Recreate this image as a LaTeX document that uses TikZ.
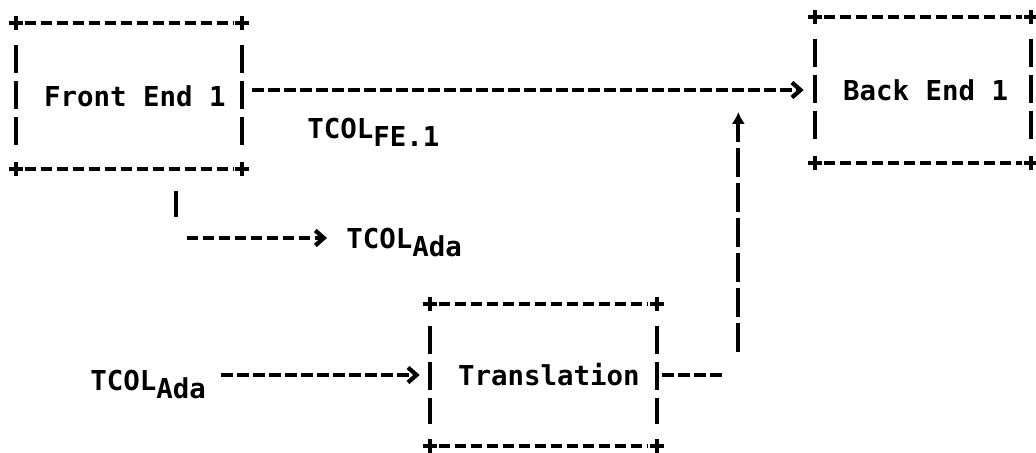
\documentclass[tikz,border=0pt]{standalone}
\usepackage{fontspec}
\setmonofont{DejaVu Sans Mono}
\usetikzlibrary{arrows.meta,calc}

% subscript set in the same size, only lowered
\newcommand\lowered[1]{\raisebox{-0.18cm}{#1}}
% box text, left aligned inside a fixed width
\newcommand\boxtext[2]{\makebox[#1][l]{#2}}
% character-style frame: dashed edges, "+" corners, "|" sides
\newcommand\asciiframe[1]{%
  \draw[hbar] ($(#1.north west)+(9,0)$) -- ($(#1.north east)+(-9,0)$);
  \draw[hbar] ($(#1.south west)+(9,0)$) -- ($(#1.south east)+(-9,0)$);
  \draw[vbar] ($(#1.north west)+(0,22)$) -- ($(#1.south west)+(0,-22)$);
  \draw[vbar] ($(#1.north east)+(0,22)$) -- ($(#1.south east)+(0,-22)$);
  \foreach \c in {north west,north east,south west,south east}
    \draw[plus] (#1.\c) +(-7,0) -- +(7,0) +(0,-7) -- +(0,7);
}

\tikzset{
  txt/.style={font=\ttfamily\bfseries\fontsize{15.6}{19}\selectfont},
  stage/.style={txt, draw=none, inner xsep=0.56cm, inner ysep=0pt, anchor=center},
  lbl/.style={txt, inner sep=0pt, anchor=base west},
  hbar/.style={line width=0.085cm, dash pattern=on 0.23cm off 0.09cm},
  vbar/.style={line width=0.075cm, dash pattern=on 0.56cm off 0.16cm},
  riser/.style={line width=0.075cm, dash pattern=on 0.58cm off 0.12cm},
  plus/.style={line width=0.08cm},
  arr/.style={-{Straight Barb[length=0.17cm,width=0.3cm]}},
  uparr/.style={-{Latex[length=0.24cm,width=0.27cm]}},
}

\begin{document}
\begin{tikzpicture}[x=0.02cm, y=-0.02cm]
  \useasboundingbox (0,0) rectangle (1036,453);
  \fill[white] (0,0) rectangle (1036,453);

  % stages
  \node[stage, minimum width=4.52cm, minimum height=2.9cm] (fe) at (129,96)
    {\boxtext{3.40cm}{Front End 1}};
  \node[stage, minimum width=4.32cm, minimum height=2.92cm] (be) at (923,90)
    {\boxtext{3.20cm}{Back End 1}};
  \node[stage, minimum width=4.54cm, minimum height=2.84cm] (tr) at (543.5,375)
    {\boxtext{3.42cm}{Translation}};
  \asciiframe{fe}
  \asciiframe{be}
  \asciiframe{tr}

  % labels
  \node[lbl] (fe1lbl) at (307,138) {TCOL\lowered{FE.1}};
  \node[lbl] (ada1) at (346,248) {TCOL\lowered{Ada}};
  \node[lbl] (ada2) at (90,390) {TCOL\lowered{Ada}};

  % Front End 1 -> Back End 1
  \draw[hbar, arr, shorten <=0.2cm, shorten >=0.22cm] (fe.east |- be.west) -- (be.west);

  % tap under Front End 1 -> TCOL_Ada
  \coordinate (tap) at ($(fe.south west)+(160,0)$);
  \coordinate (ada1in) at ($(ada1.base west)+(0,-10)$);
  \draw[vbar] ($(tap)+(0,22)$) -- ($(tap)+(0,48)$);
  \draw[hbar, arr, shorten >=0.38cm] ($(tap |- ada1in)+(11,0)$) -- (ada1in);

  % TCOL_Ada -> Translation
  \draw[hbar, arr, shorten <=0.3cm, shorten >=0.2cm] (ada2.base east |- tr.west) -- (tr.west);

  % Translation -> up into the Front End / Back End link
  \coordinate (rbend) at ($(tr.east)+(81,0)$);
  \coordinate (rtop) at ($(rbend |- be.west)+(0,22)$);
  \draw[hbar, shorten <=0.1cm, shorten >=0.26cm] (tr.east) -- (rbend);
  \draw[riser, uparr] ($(rbend)+(0,-23)$) -- (rtop);
\end{tikzpicture}
\end{document}
